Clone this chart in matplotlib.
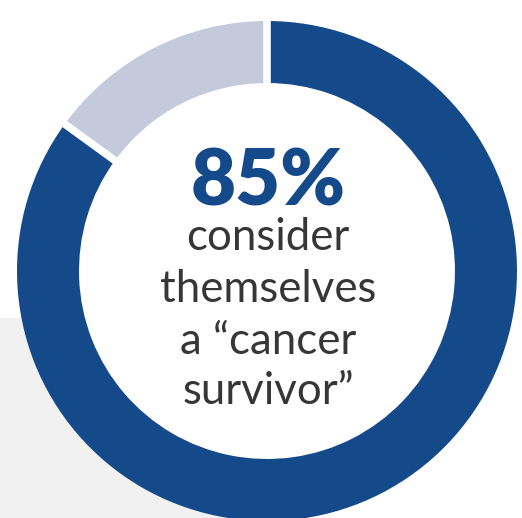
import matplotlib
matplotlib.use("Agg")
import matplotlib.pyplot as plt
import numpy as np
from matplotlib.patches import Rectangle, Circle

# share of respondents
labels = ["Consider themselves a cancer survivor", "Do not"]
values = [85, 15]
colors = ["#154a8a", "#c5c9dc"]

headline = "85%"
caption_lines = ["consider", "themselves", "a \u201ccancer", "survivor\u201d"]

W, H = 522, 518
fig = plt.figure(figsize=(W / 100, H / 100), dpi=100)
ax = fig.add_axes([0, 0, 1, 1])

# light grey panel behind the lower left of the ring
ax.add_patch(Rectangle((0, 0), 300, H - 318, facecolor="#f1f1f1", edgecolor="none", zorder=0))

cx, cy = 267, H - 271
r_out, r_in = 250, 188
wedges, _ = ax.pie(
    values,
    colors=colors,
    center=(cx, cy),
    radius=r_out,
    startangle=90,
    counterclock=False,
    wedgeprops=dict(width=r_out - r_in, edgecolor="none"),
    frame=True,
)
# white disc inside the ring
ax.add_patch(Circle((cx, cy), r_in, facecolor="white", edgecolor="none", zorder=0.5))

# white separators between the segments
for w in wedges:
    ang = np.deg2rad(w.theta2)
    ax.plot([cx + (r_in - 2) * np.cos(ang), cx + (r_out + 2) * np.cos(ang)],
            [cy + (r_in - 2) * np.sin(ang), cy + (r_out + 2) * np.sin(ang)],
            color="white", linewidth=5.5, solid_capstyle="butt", zorder=3)

ax.set_xlim(0, W)
ax.set_ylim(0, H)
ax.set_aspect("equal")
ax.axis("off")

fam = ["Lato", "DejaVu Sans"]
ax.text(cx + 1, H - 206, headline, ha="center", va="baseline", fontsize=56,
        fontweight="heavy", color="#154a8a", family=fam)
baselines = [250, 302, 354, 404]
for line, yb in zip(caption_lines, baselines):
    ax.text(cx + 1, H - yb, line, ha="center", va="baseline", fontsize=31.5,
            fontweight="normal", color="#363636", family=fam)

fig.savefig("out.png", dpi=100)
